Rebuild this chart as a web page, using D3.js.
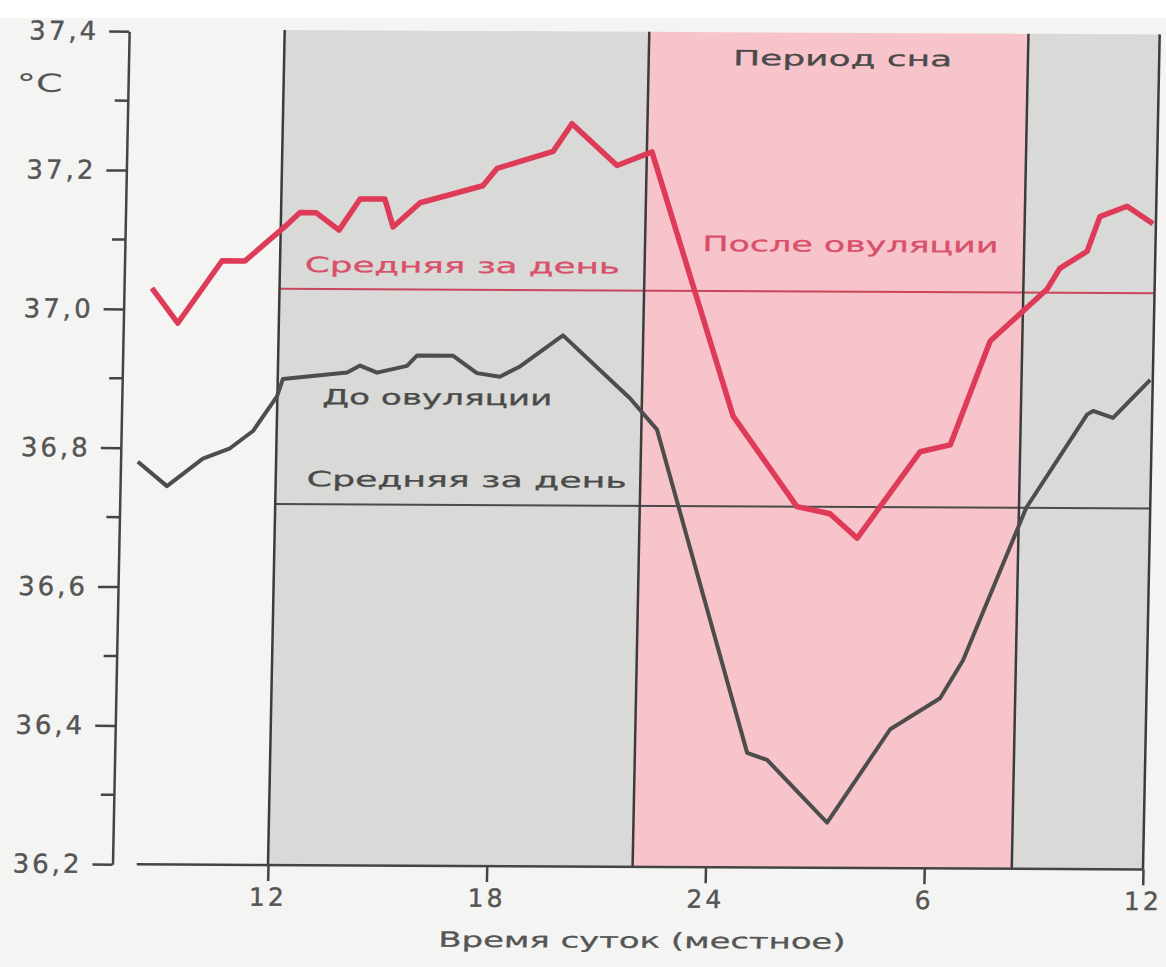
<!DOCTYPE html>
<html>

<head>
  <meta charset="utf-8">
  <title>Температура тела</title>
  <style>
    html, body {
      margin: 0;
      padding: 0;
      background: #f4f4f2;
    }

    svg {
      display: block;
    }

    text {
      font-family: "DejaVu Sans", "Liberation Sans", sans-serif;
    }
  </style>
</head>

<body>
  <svg></svg>
  <script src="https://cdnjs.cloudflare.com/ajax/libs/d3/7.8.5/d3.min.js"></script>
  <script>
    var width = 1166,
      height = 967;

    // hours (12 = noon, 24 = midnight, 36 = next noon), temperature in °C
    var afterHours = [8.5, 9.23, 10.41, 11.04, 12.12, 12.52, 12.96, 13.6, 14.16, 14.84, 15.08, 15.81, 17.52, 17.9,
      19.43, 19.93, 21.19, 22.14, 24.51, 26.31, 27.22, 27.98, 29.66, 30.48, 31.52, 33.05, 33.39, 34.13, 34.46, 35.2, 35.92];
    var afterTemps = [37.03, 36.98, 37.07, 37.07, 37.12, 37.14, 37.14, 37.115, 37.16, 37.16, 37.12, 37.155, 37.18, 37.205,
      37.23, 37.27, 37.21, 37.23, 36.85, 36.72, 36.71, 36.675, 36.8, 36.81, 36.96, 37.035, 37.065, 37.09, 37.14, 37.155, 37.13];

    var beforeHours = [8.21, 9.02, 9.99, 10.73, 11.35, 11.99, 12.14, 13.9, 14.25, 14.72, 15.54, 15.81, 16.79, 17.46,
      18.09, 18.64, 19.8, 21.67, 22.43, 25.08, 25.63, 27.31, 28.99, 30.34, 30.95, 32.6, 34.22, 34.38, 34.93, 35.93];
    var beforeTemps = [36.78, 36.745, 36.785, 36.8, 36.825, 36.875, 36.9, 36.91, 36.92, 36.91, 36.92, 36.935, 36.935, 36.91,
      36.905, 36.92, 36.965, 36.875, 36.83, 36.365, 36.355, 36.265, 36.4, 36.445, 36.5, 36.72, 36.855, 36.86, 36.85, 36.905];

    var afterMean = 37.03,
      beforeMean = 36.72;

    // background bands: [from hour, to hour, kind]
    var bandStarts = [12, 22, 32.4];
    var bandEnds = [22, 32.4, 36];
    var bandKinds = ["day", "sleep", "day"];
    var dividerHours = [12, 22, 32.4, 36];

    var xTickValues = [12, 18, 24, 30, 36];
    var xTickLabels = ["12", "18", "24", "6", "12"];
    var yMajorTicks = [36.2, 36.4, 36.6, 36.8, 37.0, 37.2, 37.4];
    var yMinorTicks = [36.3, 36.5, 36.7, 36.9, 37.1, 37.3];

    var axisStartHour = 8.4;

    var x = d3.scaleLinear().domain([12, 36]).range([268, 1143]);
    var y = d3.scaleLinear().domain([36.2, 37.4]).range([865, 32]);
    var yAxisX = 112.5;

    var svg = d3.select("svg").attr("width", width).attr("height", height);

    svg.append("rect").attr("width", width).attr("height", 18).attr("fill", "#ffffff");

    // scanned page is slightly sheared
    var g = svg.append("g")
      .attr("transform", "matrix(1,0.005,-0.02,1," + (0.02 * 865) + "," + (-0.005 * 268) + ")");

    g.selectAll("rect.band").data(bandStarts)
      .enter()
      .append("rect")
      .attr("class", "band")
      .attr("x", function (d) { return x(d) })
      .attr("y", y(37.4) - 2)
      .attr("width", function (d, i) { return x(bandEnds[i]) - x(d) })
      .attr("height", y(36.2) - y(37.4) + 2)
      .attr("fill", function (d, i) { return bandKinds[i] == "sleep" ? "#f8c4cc" : "#d9d9d7" });

    // mean lines
    g.append("line")
      .attr("x1", x(12)).attr("x2", x(36))
      .attr("y1", y(afterMean)).attr("y2", y(afterMean))
      .style("stroke", "#c8475c").style("stroke-width", 2);
    g.append("line")
      .attr("x1", x(12)).attr("x2", x(36))
      .attr("y1", y(beforeMean)).attr("y2", y(beforeMean))
      .style("stroke", "#4a4a4a").style("stroke-width", 2);

    // vertical dividers
    g.selectAll("line.divider").data(dividerHours)
      .enter()
      .append("line")
      .attr("class", "divider")
      .attr("x1", function (d) { return x(d) })
      .attr("x2", function (d) { return x(d) })
      .attr("y1", y(37.4) - 2)
      .attr("y2", y(36.2))
      .style("stroke", "#3c3c3c")
      .style("stroke-width", 2.5);

    var line = d3.line()
      .x(function (d) { return x(d[0]) })
      .y(function (d) { return y(d[1]) });

    g.append("path")
      .datum(beforeHours.map(function (h, i) { return [h, beforeTemps[i]] }))
      .attr("d", line)
      .style("fill", "none")
      .style("stroke", "#4d4d4d")
      .style("stroke-width", 4)
      .style("stroke-linejoin", "round");

    g.append("path")
      .datum(afterHours.map(function (h, i) { return [h, afterTemps[i]] }))
      .attr("d", line)
      .style("fill", "none")
      .style("stroke", "#de3b58")
      .style("stroke-width", 5.5)
      .style("stroke-linejoin", "round");

    // y axis
    var yAxis = d3.axisLeft(y)
      .tickValues(yMajorTicks)
      .tickSize(20)
      .tickSizeOuter(0)
      .tickPadding(10)
      .tickFormat(function (d) { return d3.format(".1f")(d).replace(".", ",") });
    var gy = g.append("g").attr("transform", "translate(" + yAxisX + ",0)").call(yAxis);
    gy.select(".domain").style("stroke", "#444").style("stroke-width", 2.5);
    gy.selectAll(".tick line").style("stroke", "#444").style("stroke-width", 2.5);
    gy.selectAll(".tick text")
      .style("font-size", "26px")
      .style("letter-spacing", "3px")
      .style("fill", "#555")
      .style("stroke", "#555")
      .style("stroke-width", 0.4);

    g.selectAll("line.minor").data(yMinorTicks)
      .enter()
      .append("line")
      .attr("class", "minor")
      .attr("x1", yAxisX - 13).attr("x2", yAxisX)
      .attr("y1", function (d) { return y(d) })
      .attr("y2", function (d) { return y(d) })
      .style("stroke", "#444")
      .style("stroke-width", 2.5);

    g.append("text")
      .attr("x", 1).attr("y", 93)
      .attr("textLength", 46)
      .attr("lengthAdjust", "spacingAndGlyphs")
      .style("font-size", "25px")
      .style("fill", "#555")
      .text("°C");

    // x axis
    g.append("line")
      .attr("x1", x(axisStartHour)).attr("x2", x(36))
      .attr("y1", y(36.2)).attr("y2", y(36.2))
      .style("stroke", "#444").style("stroke-width", 2.5);

    var xAxis = d3.axisBottom(x)
      .tickValues(xTickValues)
      .tickSize(16)
      .tickSizeOuter(0)
      .tickPadding(7)
      .tickFormat(function (d, i) { return xTickLabels[i] });
    var gx = g.append("g").attr("transform", "translate(0," + y(36.2) + ")").call(xAxis);
    gx.select(".domain").remove();
    gx.selectAll(".tick line").style("stroke", "#444").style("stroke-width", 2.5);
    gx.selectAll(".tick text")
      .style("font-size", "25px")
      .style("letter-spacing", "3px")
      .style("fill", "#555")
      .style("stroke", "#555")
      .style("stroke-width", 0.4);

    // labels
    var labels = [
      { t: "Период сна", x: 717, y: 63, w: 219, c: "#4a4a4a" },
      { t: "После овуляции", x: 690, y: 249, w: 296, c: "#d9506b" },
      { t: "Средняя за день", x: 293, y: 272, w: 315, c: "#d9506b" },
      { t: "До овуляции", x: 313, y: 404, w: 230, c: "#4a4a4a" },
      { t: "Средняя за день", x: 299, y: 486, w: 320, c: "#4a4a4a" },
      { t: "Время суток (местное)", x: 440, y: 946, w: 407, c: "#555555" }
    ];
    g.selectAll("text.label").data(labels)
      .enter()
      .append("text")
      .attr("class", "label")
      .attr("x", function (d) { return d.x })
      .attr("y", function (d) { return d.y })
      .attr("textLength", function (d) { return d.w })
      .attr("lengthAdjust", "spacingAndGlyphs")
      .style("font-size", "21px")
      .style("fill", function (d) { return d.c })
      .style("stroke", function (d) { return d.c })
      .style("stroke-width", 0.3)
      .text(function (d) { return d.t });
  </script>
</body>

</html>
